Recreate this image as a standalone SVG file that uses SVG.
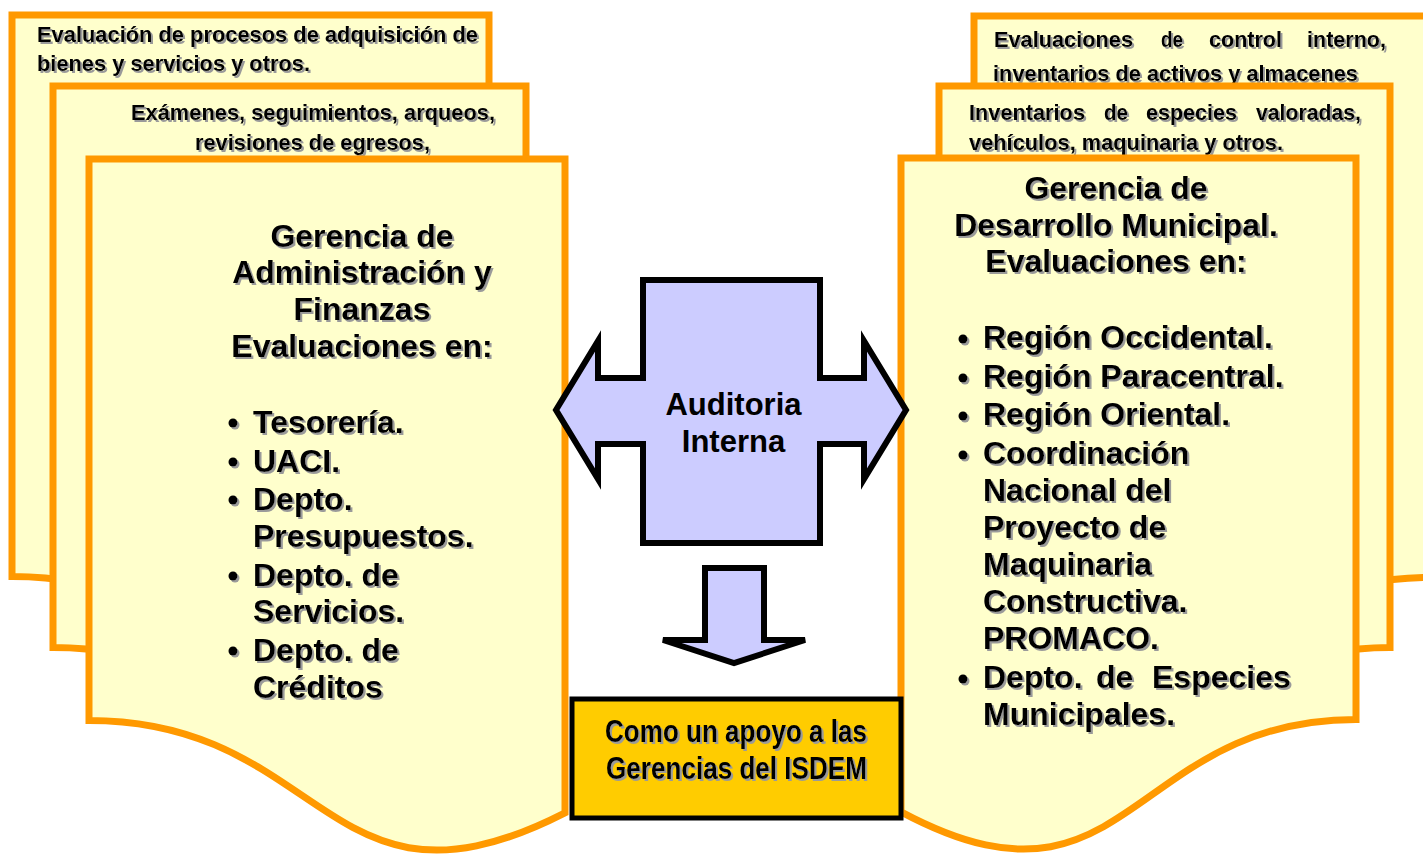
<svg xmlns="http://www.w3.org/2000/svg" width="1423" height="856" viewBox="0 0 1423 856">
<defs>
<filter id="sh" x="-10%" y="-10%" width="120%" height="130%">
<feDropShadow dx="2" dy="2" stdDeviation="0.6" flood-color="#9a9a9a" flood-opacity="1"/>
</filter>
<style>
.doc{fill:#FFFFCC;stroke:#FF9900;stroke-width:7;stroke-linejoin:miter}
.big{font-family:"Liberation Sans",Arial,sans-serif;font-weight:bold;font-size:32px;fill:#000}
.nar{font-family:"Liberation Sans Narrow","Liberation Sans",Arial,sans-serif;font-weight:bold;font-size:21.5px;fill:#000}
.box{font-family:"Liberation Sans Narrow","Liberation Sans",Arial,sans-serif;font-weight:bold;font-size:31px;fill:#000}
.arrow{fill:#CCCCFF;stroke:#000;stroke-width:6;stroke-linejoin:miter}
</style>
</defs>
<rect width="1423" height="856" fill="#FFFFFF"/>

<g id="left-back-doc">
<path class="doc" d="M12,15 H489 V668.8 C250.5,790.3 250.5,576.4 12,576.4 Z"/>
<g filter="url(#sh)">
<text class="nar" x="37" y="42" textLength="441" lengthAdjust="spacingAndGlyphs">Evaluación de procesos de adquisición de</text>
<text class="nar" x="37" y="71" textLength="273" lengthAdjust="spacingAndGlyphs">bienes y servicios y otros.</text>
</g>
</g>

<g id="left-mid-doc">
<path class="doc" d="M53,86 H526 V739.8 C289.5,861.3 289.5,647.4 53,647.4 Z"/>
<g filter="url(#sh)">
<text class="nar" x="131" y="120" textLength="364" lengthAdjust="spacingAndGlyphs">Exámenes, seguimientos, arqueos,</text>
<text class="nar" x="195" y="150" textLength="235" lengthAdjust="spacingAndGlyphs">revisiones de egresos,</text>
</g>
</g>

<g id="left-front-doc">
<path class="doc" d="M89,159 H565 V812.8 C327,934.3 327,720.4 89,720.4 Z"/>
<g filter="url(#sh)">
<text class="big" text-anchor="middle" x="362" y="247">Gerencia de</text>
<text class="big" text-anchor="middle" x="362" y="283">Administración y</text>
<text class="big" text-anchor="middle" x="362" y="320">Finanzas</text>
<text class="big" text-anchor="middle" x="362" y="357">Evaluaciones en:</text>
<circle cx="233" cy="423" r="4.5"/>
<circle cx="233" cy="462" r="4.5"/>
<circle cx="233" cy="500" r="4.5"/>
<circle cx="233" cy="576" r="4.5"/>
<circle cx="233" cy="651" r="4.5"/>
<text class="big" x="253" y="433">Tesorería.</text>
<text class="big" x="253" y="472">UACI.</text>
<text class="big" x="253" y="510">Depto.</text>
<text class="big" x="253" y="547">Presupuestos.</text>
<text class="big" x="253" y="586">Depto. de</text>
<text class="big" x="253" y="622">Servicios.</text>
<text class="big" x="253" y="661">Depto. de</text>
<text class="big" x="253" y="698">Créditos</text>
</g>
</g>

<g id="right-back-doc">
<path class="doc" d="M974,16 H1430 V577.4 C1202,577.4 1202,791.3 974,669.8 Z"/>
<g filter="url(#sh)">
<text class="nar" y="47"><tspan x="994" textLength="139" lengthAdjust="spacingAndGlyphs">Evaluaciones</tspan><tspan x="1161" textLength="22" lengthAdjust="spacingAndGlyphs">de</tspan><tspan x="1209" textLength="73" lengthAdjust="spacingAndGlyphs">control</tspan><tspan x="1307" textLength="79" lengthAdjust="spacingAndGlyphs">interno,</tspan></text>
<text class="nar" x="993" y="81" textLength="365" lengthAdjust="spacingAndGlyphs">inventarios de activos y almacenes</text>
</g>
</g>

<g id="right-mid-doc">
<path class="doc" d="M939,86 H1390 V647.4 C1164.5,647.4 1164.5,861.3 939,739.8 Z"/>
<g filter="url(#sh)">
<text class="nar" y="120"><tspan x="969" textLength="116" lengthAdjust="spacingAndGlyphs">Inventarios</tspan><tspan x="1104" textLength="24" lengthAdjust="spacingAndGlyphs">de</tspan><tspan x="1146" textLength="91" lengthAdjust="spacingAndGlyphs">especies</tspan><tspan x="1256" textLength="105" lengthAdjust="spacingAndGlyphs">valoradas,</tspan></text>
<text class="nar" x="969" y="150" textLength="314" lengthAdjust="spacingAndGlyphs">vehículos, maquinaria y otros.</text>
</g>
</g>

<g id="right-front-doc">
<path class="doc" d="M901,158 H1356 V719.4 C1128.5,719.4 1128.5,933.3 901,811.8 Z"/>
<g filter="url(#sh)">
<text class="big" text-anchor="middle" x="1116" y="199">Gerencia de</text>
<text class="big" text-anchor="middle" x="1116" y="236">Desarrollo Municipal.</text>
<text class="big" text-anchor="middle" x="1116" y="272">Evaluaciones en:</text>
<circle cx="963" cy="339" r="4.5"/>
<circle cx="963" cy="378" r="4.5"/>
<circle cx="963" cy="416" r="4.5"/>
<circle cx="963" cy="455" r="4.5"/>
<circle cx="963" cy="679" r="4.5"/>
<text class="big" x="983" y="348">Región Occidental.</text>
<text class="big" x="983" y="387">Región Paracentral.</text>
<text class="big" x="983" y="425">Región Oriental.</text>
<text class="big" x="983" y="464">Coordinación</text>
<text class="big" x="983" y="501">Nacional del</text>
<text class="big" x="983" y="538">Proyecto de</text>
<text class="big" x="983" y="575">Maquinaria</text>
<text class="big" x="983" y="612">Constructiva.</text>
<text class="big" x="983" y="649">PROMACO.</text>
<text class="big" y="688"><tspan x="983">Depto.</tspan> <tspan x="1096">de</tspan> <tspan x="1152">Especies</tspan></text>
<text class="big" x="983" y="725">Municipales.</text>
</g>
</g>

<g id="auditoria-interna">
<path class="arrow" d="M643,280 H820 V378 H864 V341 L906,410 L864,479 V444 H820 V543 H643 V444 H598 V479 L556,410 L598,341 V378 H643 Z"/>
<text class="big" style="font-size:31px" text-anchor="middle" x="733.5" y="415">Auditoria</text>
<text class="big" style="font-size:31px" text-anchor="middle" x="733.5" y="452">Interna</text>
</g>

<g id="connectors">
<path class="arrow" d="M705,568 H764 V640 H805 L734,663 L663,640 H705 Z"/>
</g>

<g id="apoyo-box">
<rect x="572" y="699" width="329" height="119" fill="#FFCC00" stroke="#000" stroke-width="5"/>
<g filter="url(#sh)">
<text class="box" x="605" y="742" textLength="262" lengthAdjust="spacingAndGlyphs">Como un apoyo a las</text>
<text class="box" x="606" y="779" textLength="261" lengthAdjust="spacingAndGlyphs">Gerencias del ISDEM</text>
</g>
</g>
</svg>
